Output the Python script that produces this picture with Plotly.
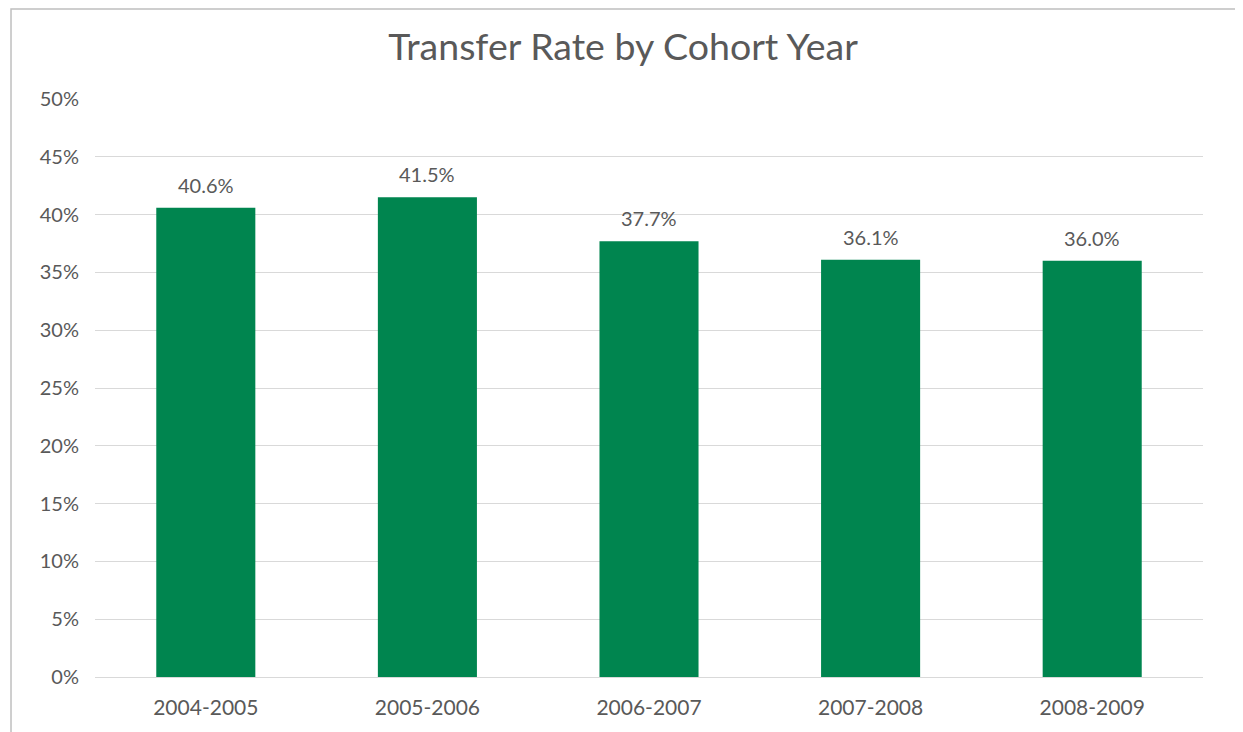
import plotly.graph_objects as go

cohorts = ['2004-2005', '2005-2006', '2006-2007', '2007-2008', '2008-2009']
transfer_rate = [40.6, 41.5, 37.7, 36.1, 36.0]

bar_color = '#00854F'
text_color = '#595959'
grid_color = '#d9d9d9'
font_family = 'Lato, "Open Sans", sans-serif'

fig = go.Figure()
fig.add_trace(go.Bar(
	x=cohorts,
	y=transfer_rate,
	marker=dict(color=bar_color, line=dict(width=0)),
	width=0.447,
	hoverinfo='x+y',
))

# data labels above each bar
for c, v in zip(cohorts, transfer_rate):
	fig.add_annotation(
		x=c, y=v, text='%.1f%%' % v, showarrow=False,
		yanchor='bottom', yshift=9,
		font=dict(size=20, color=text_color, family=font_family),
	)

# outer chart border (page has an 8px body margin, so stay inside the figure)
fig.add_shape(
	type='rect', xref='paper', yref='paper',
	x0=-0.0758, x1=1.0316, y0=-0.12, y1=1.1557,
	line=dict(color='#bfbfbf', width=1.5),
	layer='below',
)

fig.update_layout(
	width=1243, height=732,
	margin=dict(l=87, r=48, t=91, b=63),
	paper_bgcolor='white',
	plot_bgcolor='white',
	showlegend=False,
	title=dict(
		text='Transfer Rate by Cohort Year',
		x=(623 - 8) / 1243, xref='container', xanchor='center',
		y=1 - 39 / 732, yref='container', yanchor='middle',
		font=dict(size=37.5, color=text_color, family=font_family),
	),
	font=dict(family=font_family, color=text_color),
)
fig.update_xaxes(
	showgrid=False,
	showline=True, linecolor=grid_color, linewidth=1,
	ticks='', tickfont=dict(size=21, color=text_color),
	ticklabelstandoff=12,
)
fig.update_yaxes(
	range=[0, 50], dtick=5, ticksuffix='%',
	showgrid=True, gridcolor=grid_color, gridwidth=1,
	zeroline=False, showline=False, ticks='',
	tickfont=dict(size=20, color=text_color),
	ticklabelstandoff=15,
)

fig.write_html('out.html')
